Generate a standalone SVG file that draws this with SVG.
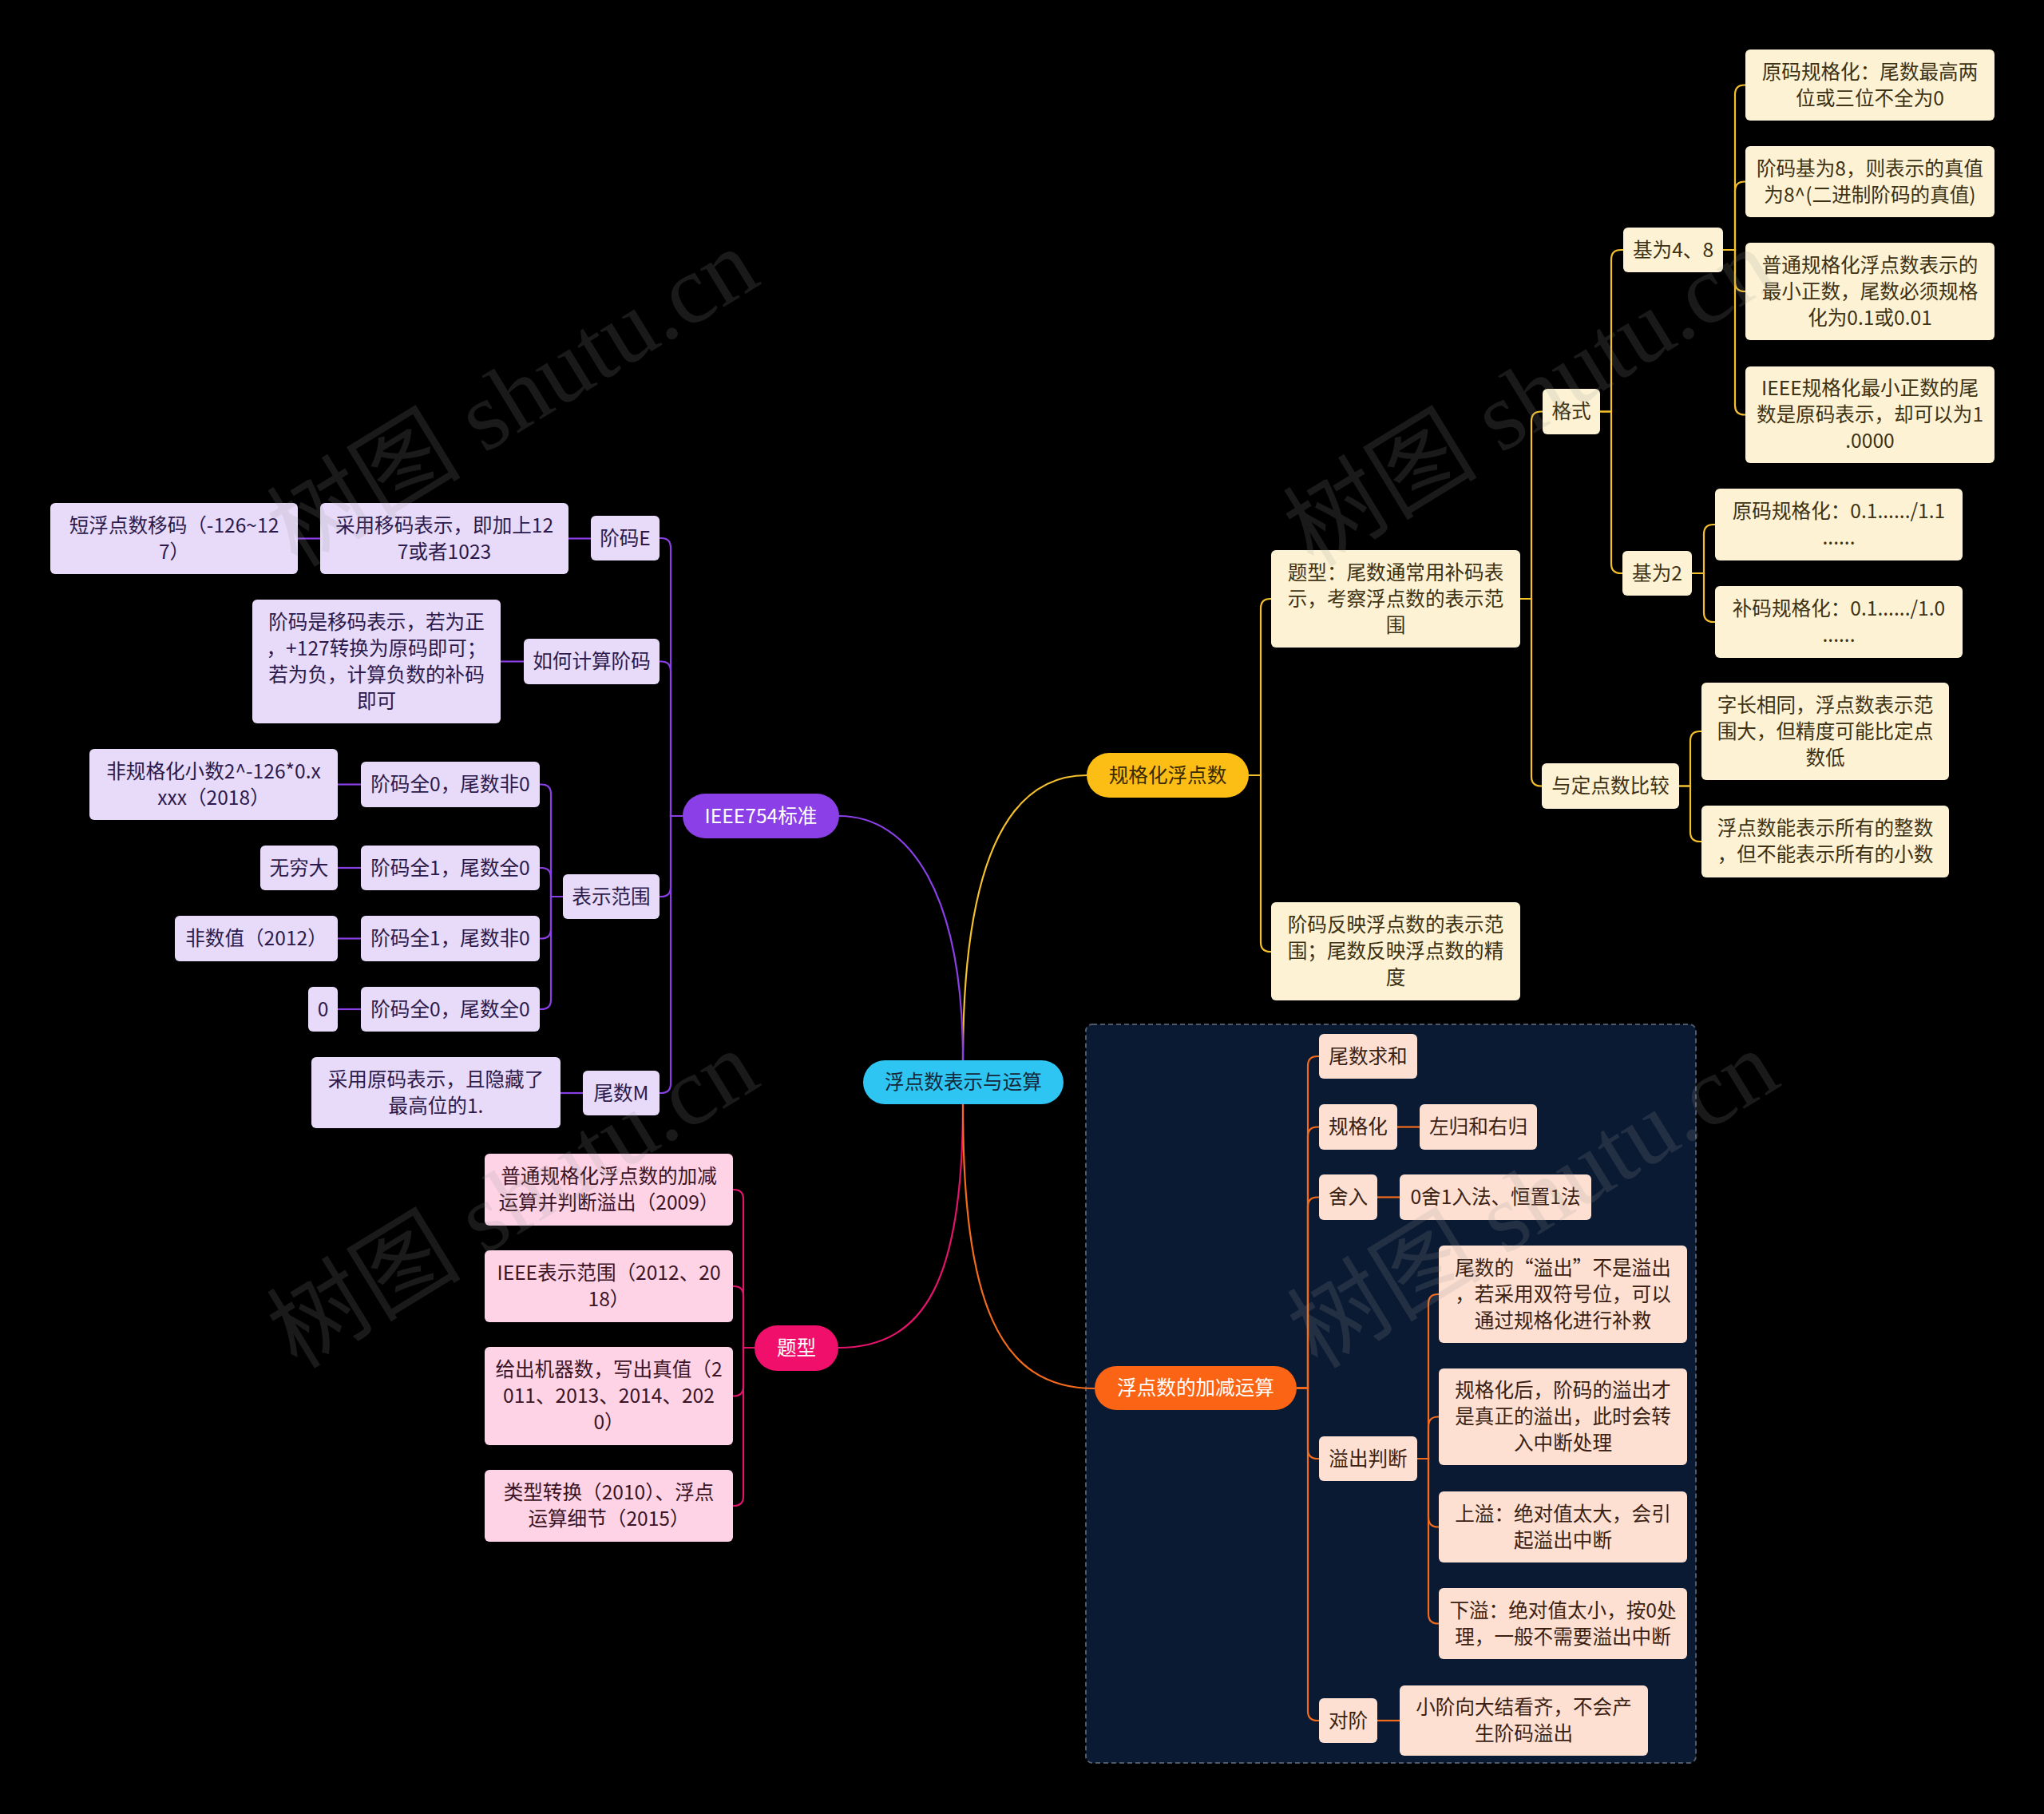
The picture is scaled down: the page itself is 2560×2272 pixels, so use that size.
<svg xmlns="http://www.w3.org/2000/svg" width="2560" height="2272" viewBox="0 0 2560 2272">
<style>
text{font-family:"Noto Sans CJK SC","Noto Sans",sans-serif;font-size:24.6px;text-anchor:middle}
.ly rect{fill:#fdf3d4}
.ly text{fill:#3d3213}
.lp rect{fill:#e7dbf9}
.lp text{fill:#2d1a4c}
.lk rect{fill:#fdd3e5}
.lk text{fill:#3b1426}
.lo rect{fill:#fde0d2}
.lo text{fill:#3b1f12}
.cy{fill:none;stroke:#f4c02c;stroke-width:2.2}
.cp{fill:none;stroke:#8b3fe6;stroke-width:2.2}
.ck{fill:none;stroke:#e2146a;stroke-width:2.2}
.co{fill:none;stroke:#f46b1c;stroke-width:2.2}
.wm{font-family:"Liberation Serif","Noto Sans CJK SC",serif;font-size:122px;fill:#9a9a9a;opacity:0.17;text-anchor:start}
</style>
<rect x="0" y="0" width="2560" height="2272" fill="#000000"/>
<rect id="frame" x="1360" y="1283" width="764" height="925" rx="8" fill="#0b1a33" stroke="#4f5968" stroke-width="2" stroke-dasharray="6 4"/>

<g id="connectors">
<path class="cy" d="M 1206 1328 C 1206 1080, 1262 971, 1361 971"/>
<path class="cp" d="M 1051 1022 C 1140 1022, 1206 1120, 1206 1328"/>
<path class="ck" d="M 1206 1383 C 1206 1600, 1160 1688, 1050 1688"/>
<path class="co" d="M 1206 1383 C 1206 1630, 1250 1739, 1371 1739"/>

<path class="cy" d="M 1564 971 H 1579 V 762 Q 1579 750 1591 750 H 1592"/>
<path class="cy" d="M 1564 971 H 1579 V 1180 Q 1579 1192 1591 1192 H 1592"/>
<path class="cy" d="M 1904 750 H 1918 V 527.5 Q 1918 515.5 1930 515.5 H 1932"/>
<path class="cy" d="M 1904 750 H 1918 V 972.5 Q 1918 984.5 1930 984.5 H 1931"/>
<path class="cy" d="M 2004 515.5 H 2018 V 325 Q 2018 313 2030 313 H 2033"/>
<path class="cy" d="M 2004 515.5 H 2018 V 706 Q 2018 718 2030 718 H 2032"/>
<path class="cy" d="M 2158 313 H 2173 V 118.5 Q 2173 106.5 2185 106.5 H 2186"/>
<path class="cy" d="M 2158 313 H 2173 V 239.5 Q 2173 227.5 2185 227.5 H 2186"/>
<path class="cy" d="M 2158 313 H 2173 V 353 Q 2173 365 2185 365 H 2186"/>
<path class="cy" d="M 2158 313 H 2173 V 507.5 Q 2173 519.5 2185 519.5 H 2186"/>
<path class="cy" d="M 2119 718 H 2134 V 669 Q 2134 657 2146 657 H 2148"/>
<path class="cy" d="M 2119 718 H 2134 V 767 Q 2134 779 2146 779 H 2148"/>
<path class="cy" d="M 2103 984.5 H 2117 V 928 Q 2117 916 2129 916 H 2131"/>
<path class="cy" d="M 2103 984.5 H 2117 V 1042 Q 2117 1054 2129 1054 H 2131"/>

<path class="cp" d="M 855 1022 H 840 V 686 Q 840 674 828 674 H 826"/>
<path class="cp" d="M 855 1022 H 840 V 840.5 Q 840 828.5 828 828.5 H 826"/>
<path class="cp" d="M 855 1022 H 840 V 1111 Q 840 1123 828 1123 H 826"/>
<path class="cp" d="M 855 1022 H 840 V 1357 Q 840 1369 828 1369 H 826"/>
<path class="cp" d="M 740 674.5 H 712"/>
<path class="cp" d="M 401 674.5 H 373"/>
<path class="cp" d="M 656 828.5 H 627"/>
<path class="cp" d="M 705 1123 H 690 V 994.5 Q 690 982.5 678 982.5 H 676"/>
<path class="cp" d="M 705 1123 H 690 V 1099 Q 690 1087 678 1087 H 676"/>
<path class="cp" d="M 705 1123 H 690 V 1163.5 Q 690 1175.5 678 1175.5 H 676"/>
<path class="cp" d="M 705 1123 H 690 V 1252 Q 690 1264 678 1264 H 676"/>
<path class="cp" d="M 452 982.5 H 423"/>
<path class="cp" d="M 452 1087 H 423"/>
<path class="cp" d="M 452 1175.5 H 423"/>
<path class="cp" d="M 452 1264 H 423"/>
<path class="cp" d="M 730 1369 H 702"/>

<path class="ck" d="M 945 1688 H 931 V 1502 Q 931 1490 919 1490 H 918"/>
<path class="ck" d="M 945 1688 H 931 V 1623 Q 931 1611 919 1611 H 918"/>
<path class="ck" d="M 945 1688 H 931 V 1736.5 Q 931 1748.5 919 1748.5 H 918"/>
<path class="ck" d="M 945 1688 H 931 V 1874 Q 931 1886 919 1886 H 918"/>

<path class="co" d="M 1624 1738.5 H 1638 V 1335 Q 1638 1323 1650 1323 H 1652"/>
<path class="co" d="M 1624 1738.5 H 1638 V 1423.5 Q 1638 1411.5 1650 1411.5 H 1652"/>
<path class="co" d="M 1624 1738.5 H 1638 V 1511.5 Q 1638 1499.5 1650 1499.5 H 1652"/>
<path class="co" d="M 1624 1738.5 H 1638 V 1815 Q 1638 1827 1650 1827 H 1652"/>
<path class="co" d="M 1624 1738.5 H 1638 V 2143 Q 1638 2155 1650 2155 H 1652"/>
<path class="co" d="M 1750 1411.5 H 1778"/>
<path class="co" d="M 1725 1499.5 H 1753"/>
<path class="co" d="M 1725 2155 H 1753"/>
<path class="co" d="M 1775 1827 H 1789 V 1633 Q 1789 1621 1801 1621 H 1802"/>
<path class="co" d="M 1775 1827 H 1789 V 1786.5 Q 1789 1774.5 1801 1774.5 H 1802"/>
<path class="co" d="M 1775 1827 H 1789 V 1900.5 Q 1789 1912.5 1801 1912.5 H 1802"/>
<path class="co" d="M 1775 1827 H 1789 V 2021.5 Q 1789 2033.5 1801 2033.5 H 1802"/>
</g>

<g id="root"><rect x="1081" y="1328" width="251" height="55" rx="27.5" fill="#2ec5f2"/><text x="1206.5" y="1364" fill="#15283a">浮点数表示与运算</text></g>
<g id="n-guige"><rect x="1361" y="943" width="203" height="56" rx="28" fill="#fcbd14"/><text x="1462.5" y="979.5" fill="#3a2a00">规格化浮点数</text></g>
<g id="n-ieee"><rect x="855" y="994" width="196" height="56" rx="28" fill="#8b3fe6"/><text x="953" y="1030.5" fill="#ffffff">IEEE754标准</text></g>
<g id="n-tixing"><rect x="945" y="1660" width="105" height="57" rx="28.5" fill="#f0106c"/><text x="997.5" y="1696.5" fill="#ffffff">题型</text></g>
<g id="n-jiajian"><rect x="1371" y="1711" width="253" height="55" rx="27.5" fill="#fa6414"/><text x="1497.5" y="1747" fill="#ffffff">浮点数的加减运算</text></g>

<g id="y1" class="ly"><rect x="1592" y="689" width="312" height="122" rx="6"/><text x="1748" y="725.5">题型：尾数通常用补码表<tspan x="1748" dy="33">示，考察浮点数的表示范</tspan><tspan x="1748" dy="33">围</tspan></text></g>
<g id="y2" class="ly"><rect x="1592" y="1130" width="312" height="123" rx="6"/><text x="1748" y="1167">阶码反映浮点数的表示范<tspan x="1748" dy="33">围；尾数反映浮点数的精</tspan><tspan x="1748" dy="33">度</tspan></text></g>
<g id="y3" class="ly"><rect x="1932" y="487" width="72" height="57" rx="6"/><text x="1968" y="524">格式</text></g>
<g id="y4" class="ly"><rect x="1931" y="956" width="172" height="57" rx="6"/><text x="2017" y="993">与定点数比较</text></g>
<g id="y5" class="ly"><rect x="2033" y="285" width="125" height="56" rx="6"/><text x="2095.5" y="321.5">基为4、8</text></g>
<g id="y6" class="ly"><rect x="2032" y="690" width="87" height="56" rx="6"/><text x="2075.5" y="726.5">基为2</text></g>
<g id="y7" class="ly"><rect x="2186" y="62" width="312" height="89" rx="6"/><text x="2342" y="98.5">原码规格化：尾数最高两<tspan x="2342" dy="33">位或三位不全为0</tspan></text></g>
<g id="y8" class="ly"><rect x="2186" y="183" width="312" height="89" rx="6"/><text x="2342" y="219.5">阶码基为8，则表示的真值<tspan x="2342" dy="33">为8^(二进制阶码的真值)</tspan></text></g>
<g id="y9" class="ly"><rect x="2186" y="304" width="312" height="122" rx="6"/><text x="2342" y="340.5">普通规格化浮点数表示的<tspan x="2342" dy="33">最小正数，尾数必须规格</tspan><tspan x="2342" dy="33">化为0.1或0.01</tspan></text></g>
<g id="y10" class="ly"><rect x="2186" y="459" width="312" height="121" rx="6"/><text x="2342" y="495">IEEE规格化最小正数的尾<tspan x="2342" dy="33">数是原码表示，却可以为1</tspan><tspan x="2342" dy="33">.0000</tspan></text></g>
<g id="y11" class="ly"><rect x="2148" y="612" width="310" height="90" rx="6"/><text x="2303" y="649">原码规格化：0.1....../1.1<tspan x="2303" dy="33">......</tspan></text></g>
<g id="y12" class="ly"><rect x="2148" y="734" width="310" height="90" rx="6"/><text x="2303" y="771">补码规格化：0.1....../1.0<tspan x="2303" dy="33">......</tspan></text></g>
<g id="y13" class="ly"><rect x="2131" y="855" width="310" height="122" rx="6"/><text x="2286" y="891.5">字长相同，浮点数表示范<tspan x="2286" dy="33">围大，但精度可能比定点</tspan><tspan x="2286" dy="33">数低</tspan></text></g>
<g id="y14" class="ly"><rect x="2131" y="1009" width="310" height="90" rx="6"/><text x="2286" y="1046">浮点数能表示所有的整数<tspan x="2286" dy="33">，但不能表示所有的小数</tspan></text></g>

<g id="p1" class="lp"><rect x="740" y="646" width="86" height="56" rx="6"/><text x="783" y="682.5">阶码E</text></g>
<g id="p2" class="lp"><rect x="656" y="800" width="170" height="57" rx="6"/><text x="741" y="837">如何计算阶码</text></g>
<g id="p3" class="lp"><rect x="705" y="1095" width="121" height="56" rx="6"/><text x="765.5" y="1131.5">表示范围</text></g>
<g id="p4" class="lp"><rect x="730" y="1341" width="96" height="56" rx="6"/><text x="778" y="1377.5">尾数M</text></g>
<g id="p5" class="lp"><rect x="401" y="630" width="311" height="89" rx="6"/><text x="556.5" y="666.5">采用移码表示，即加上12<tspan x="556.5" dy="33">7或者1023</tspan></text></g>
<g id="p6" class="lp"><rect x="63" y="630" width="310" height="89" rx="6"/><text x="218" y="666.5">短浮点数移码（-126~12<tspan x="218" dy="33">7）</tspan></text></g>
<g id="p7" class="lp"><rect x="316" y="751" width="311" height="155" rx="6"/><text x="471.5" y="787.5">阶码是移码表示，若为正<tspan x="471.5" dy="33">，+127转换为原码即可；</tspan><tspan x="471.5" dy="33">若为负，计算负数的补码</tspan><tspan x="471.5" dy="33">即可</tspan></text></g>
<g id="p8" class="lp"><rect x="452" y="954" width="224" height="57" rx="6"/><text x="564" y="991">阶码全0，尾数非0</text></g>
<g id="p9" class="lp"><rect x="112" y="938" width="311" height="89" rx="6"/><text x="267.5" y="974.5">非规格化小数2^-126*0.x<tspan x="267.5" dy="33">xxx（2018）</tspan></text></g>
<g id="p10" class="lp"><rect x="452" y="1059" width="224" height="56" rx="6"/><text x="564" y="1095.5">阶码全1，尾数全0</text></g>
<g id="p11" class="lp"><rect x="326" y="1059" width="97" height="56" rx="6"/><text x="374.5" y="1095.5">无穷大</text></g>
<g id="p12" class="lp"><rect x="452" y="1147" width="224" height="57" rx="6"/><text x="564" y="1184">阶码全1，尾数非0</text></g>
<g id="p13" class="lp"><rect x="219" y="1147" width="204" height="57" rx="6"/><text x="321" y="1184">非数值（2012）</text></g>
<g id="p14" class="lp"><rect x="452" y="1236" width="224" height="56" rx="6"/><text x="564" y="1272.5">阶码全0，尾数全0</text></g>
<g id="p15" class="lp"><rect x="386" y="1236" width="37" height="56" rx="6"/><text x="404.5" y="1272.5">0</text></g>
<g id="p16" class="lp"><rect x="390" y="1324" width="312" height="89" rx="6"/><text x="546" y="1360.5">采用原码表示，且隐藏了<tspan x="546" dy="33">最高位的1.</tspan></text></g>

<g id="k1" class="lk"><rect x="607" y="1445" width="311" height="90" rx="6"/><text x="762.5" y="1482">普通规格化浮点数的加减<tspan x="762.5" dy="33">运算并判断溢出（2009）</tspan></text></g>
<g id="k2" class="lk"><rect x="607" y="1566" width="311" height="90" rx="6"/><text x="762.5" y="1603">IEEE表示范围（2012、20<tspan x="762.5" dy="33">18）</tspan></text></g>
<g id="k3" class="lk"><rect x="607" y="1687" width="311" height="123" rx="6"/><text x="762.5" y="1724">给出机器数，写出真值（2<tspan x="762.5" dy="33">011、2013、2014、202</tspan><tspan x="762.5" dy="33">0）</tspan></text></g>
<g id="k4" class="lk"><rect x="607" y="1841" width="311" height="90" rx="6"/><text x="762.5" y="1878">类型转换（2010）、浮点<tspan x="762.5" dy="33">运算细节（2015）</tspan></text></g>

<g id="o1" class="lo"><rect x="1652" y="1295" width="123" height="56" rx="6"/><text x="1713.5" y="1331.5">尾数求和</text></g>
<g id="o2" class="lo"><rect x="1652" y="1383" width="98" height="57" rx="6"/><text x="1701" y="1420">规格化</text></g>
<g id="o3" class="lo"><rect x="1778" y="1383" width="147" height="57" rx="6"/><text x="1851.5" y="1420">左归和右归</text></g>
<g id="o4" class="lo"><rect x="1652" y="1471" width="73" height="57" rx="6"/><text x="1688.5" y="1508">舍入</text></g>
<g id="o5" class="lo"><rect x="1753" y="1471" width="240" height="57" rx="6"/><text x="1873" y="1508">0舍1入法、恒置1法</text></g>
<g id="o6" class="lo"><rect x="1652" y="1799" width="123" height="56" rx="6"/><text x="1713.5" y="1835.5">溢出判断</text></g>
<g id="o7" class="lo"><rect x="1802" y="1560" width="311" height="122" rx="6"/><text x="1957.5" y="1596.5">尾数的“溢出”不是溢出<tspan x="1957.5" dy="33">，若采用双符号位，可以</tspan><tspan x="1957.5" dy="33">通过规格化进行补救</tspan></text></g>
<g id="o8" class="lo"><rect x="1802" y="1714" width="311" height="121" rx="6"/><text x="1957.5" y="1750">规格化后，阶码的溢出才<tspan x="1957.5" dy="33">是真正的溢出，此时会转</tspan><tspan x="1957.5" dy="33">入中断处理</tspan></text></g>
<g id="o9" class="lo"><rect x="1802" y="1868" width="311" height="89" rx="6"/><text x="1957.5" y="1904.5">上溢：绝对值太大，会引<tspan x="1957.5" dy="33">起溢出中断</tspan></text></g>
<g id="o10" class="lo"><rect x="1802" y="1989" width="311" height="89" rx="6"/><text x="1957.5" y="2025.5">下溢：绝对值太小，按0处<tspan x="1957.5" dy="33">理，一般不需要溢出中断</tspan></text></g>
<g id="o11" class="lo"><rect x="1652" y="2127" width="73" height="56" rx="6"/><text x="1688.5" y="2163.5">对阶</text></g>
<g id="o12" class="lo"><rect x="1753" y="2111" width="311" height="88" rx="6"/><text x="1908.5" y="2147">小阶向大结看齐，不会产<tspan x="1908.5" dy="33">生阶码溢出</tspan></text></g>

<g id="watermarks">
<text class="wm" x="372" y="712" transform="rotate(-31.5 372 712)">树图 shutu.cn</text>
<text class="wm" x="1645" y="712" transform="rotate(-31.5 1645 712)">树图 shutu.cn</text>
<text class="wm" x="372" y="1716" transform="rotate(-31.5 372 1716)">树图 shutu.cn</text>
<text class="wm" x="1650" y="1716" transform="rotate(-31.5 1650 1716)">树图 shutu.cn</text>
</g>
</svg>
